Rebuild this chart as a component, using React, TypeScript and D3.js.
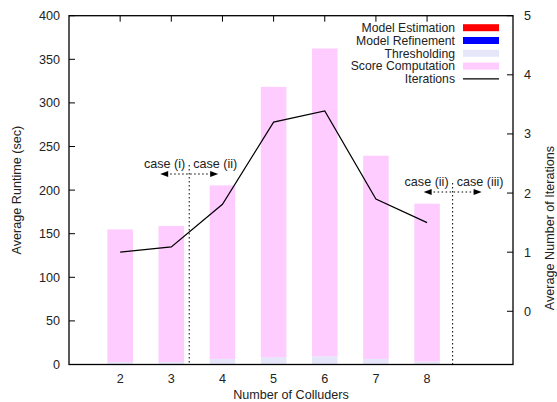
import React from "react";
import * as d3 from "d3";

const colluders = [2, 3, 4, 5, 6, 7, 8];
const modelEstimation = [0.2, 0.2, 0.2, 0.2, 0.2, 0.2, 0.2];
const modelRefinement = [0.2, 0.2, 0.2, 0.2, 0.2, 0.2, 0.2];
const thresholding = [2.5, 2.5, 6, 8, 9, 6, 3];
const scoreComputation = [152, 156, 199, 310, 353, 233, 181];
const iterations = [1.0, 1.09, 1.81, 3.2, 3.39, 1.9, 1.5];

const runtimeTicks = [0, 50, 100, 150, 200, 250, 300, 350, 400];
const iterTicks = [0, 1, 2, 3, 4, 5];

const caseSplits = [
  { at: 3.35, left: "case (i)", right: "case (ii)", y: 174 },
  { at: 8.5, left: "case (ii)", right: "case (iii)", y: 192 },
];

const series = [
  { name: "Model Estimation", values: modelEstimation, color: "#ff0000" },
  { name: "Model Refinement", values: modelRefinement, color: "#0000ff" },
  { name: "Thresholding", values: thresholding, color: "#e6e6fa" },
  { name: "Score Computation", values: scoreComputation, color: "#ffccff" },
];

const W = 557;
const H = 402;
const m = { left: 69, right: 513, top: 15.7, bottom: 364.5 };
const font = "'Liberation Sans', Arial, Helvetica, sans-serif";
const fs = 12.6;

export default function App() {
  const x = d3.scaleLinear().domain([1, 9.68]).range([m.left, m.right]);
  const y = d3.scaleLinear().domain([0, 400]).range([m.bottom, m.top]);
  const y2 = d3.scaleLinear().domain([-0.9, 5]).range([m.bottom, m.top]);
  const barW = x(1.5) - x(1);

  const table = colluders.map((c, i) => {
    const row: any = { c };
    series.forEach((s) => (row[s.name] = s.values[i]));
    return row;
  });
  const stacked = d3.stack().keys(series.map((s) => s.name))(table);

  const line = d3
    .line<number>()
    .x((_, i) => x(colluders[i]))
    .y((d) => y2(d));

  const arrowLen = 29;
  const head = (x0: number, yy: number, dir: number) =>
    `M${x0},${yy} L${x0 - dir * 8},${yy - 3} L${x0 - dir * 8},${yy + 3} Z`;

  return (
    <svg
      width={W}
      height={H}
      style={{ position: "absolute", left: 0, top: 0, background: "#fff" }}
      fontFamily={font}
      fontSize={fs}
    >
      {/* bars */}
      {stacked.map((layer, li) => (
        <g key={layer.key} fill={series[li].color}>
          {layer.map((d, i) => (
            <rect
              key={i}
              x={x(colluders[i]) - barW / 2}
              y={y(d[1])}
              width={barW}
              height={Math.max(0, y(d[0]) - y(d[1]))}
            />
          ))}
        </g>
      ))}

      {/* iterations line */}
      <path d={line(iterations) || ""} fill="none" stroke="#000" strokeWidth={1.2} />

      {/* case splits */}
      {caseSplits.map((s, i) => {
        const cx = x(s.at);
        return (
          <g key={i}>
            <line x1={cx} x2={cx} y1={s.y - 9} y2={m.bottom} stroke="#000" strokeWidth={1} strokeDasharray="1.5,2.5" />
            <line x1={cx - arrowLen + 6} x2={cx + arrowLen - 6} y1={s.y} y2={s.y} stroke="#000" strokeWidth={1} strokeDasharray="1.5,2.5" />
            <path d={head(cx - arrowLen, s.y, -1)} fill="#000" />
            <path d={head(cx + arrowLen, s.y, 1)} fill="#000" />
            <text x={cx - 4} y={s.y - 6} textAnchor="end" fill="#222">{s.left}</text>
            <text x={cx + 4} y={s.y - 6} textAnchor="start" fill="#222">{s.right}</text>
          </g>
        );
      })}

      {/* frame */}
      <rect x={m.left} y={m.top} width={m.right - m.left} height={m.bottom - m.top} fill="none" stroke="#000" strokeWidth={1.3} />

      {/* left ticks */}
      {runtimeTicks.map((t) => (
        <g key={"l" + t}>
          <line x1={m.left} x2={m.left + 6} y1={y(t)} y2={y(t)} stroke="#000" />
          <text x={m.left - 9} y={y(t) + 4.5} textAnchor="end" fill="#222">{t}</text>
        </g>
      ))}

      {/* right ticks */}
      {iterTicks.map((t) => (
        <g key={"r" + t}>
          <line x1={m.right - 6} x2={m.right} y1={y2(t)} y2={y2(t)} stroke="#000" />
          <text x={m.right + 11} y={y2(t) + 4.5} textAnchor="start" fill="#222">{t}</text>
        </g>
      ))}

      {/* x ticks */}
      {colluders.map((c) => (
        <g key={"x" + c}>
          <line x1={x(c)} x2={x(c)} y1={m.top} y2={m.top + 6} stroke="#000" />
          <text x={x(c)} y={383} textAnchor="middle" fill="#222">{c}</text>
        </g>
      ))}

      {/* axis titles */}
      <text x={(m.left + m.right) / 2} y={399} textAnchor="middle" fill="#222">Number of Colluders</text>
      <text transform={`translate(21,${(m.top + m.bottom) / 2}) rotate(-90)`} textAnchor="middle" fill="#222">
        Average Runtime (sec)
      </text>
      <text transform={`translate(554,228) rotate(-90)`} textAnchor="middle" fill="#222">
        Average Number of Iterations
      </text>

      {/* legend */}
      {series.map((s, i) => (
        <g key={s.name}>
          <text x={455} y={27.7 + i * 12.8 + 4.3} textAnchor="end" fill="#222" fontSize={12.2}>{s.name}</text>
          <rect x={463} y={27.7 + i * 12.8 - 3.5} width={36} height={7} fill={s.color} />
        </g>
      ))}
      <text x={455} y={27.7 + 4 * 12.8 + 4.3} textAnchor="end" fill="#222" fontSize={12.2}>Iterations</text>
      <line x1={463} x2={499} y1={27.7 + 4 * 12.8} y2={27.7 + 4 * 12.8} stroke="#000" strokeWidth={1.2} />
    </svg>
  );
}
